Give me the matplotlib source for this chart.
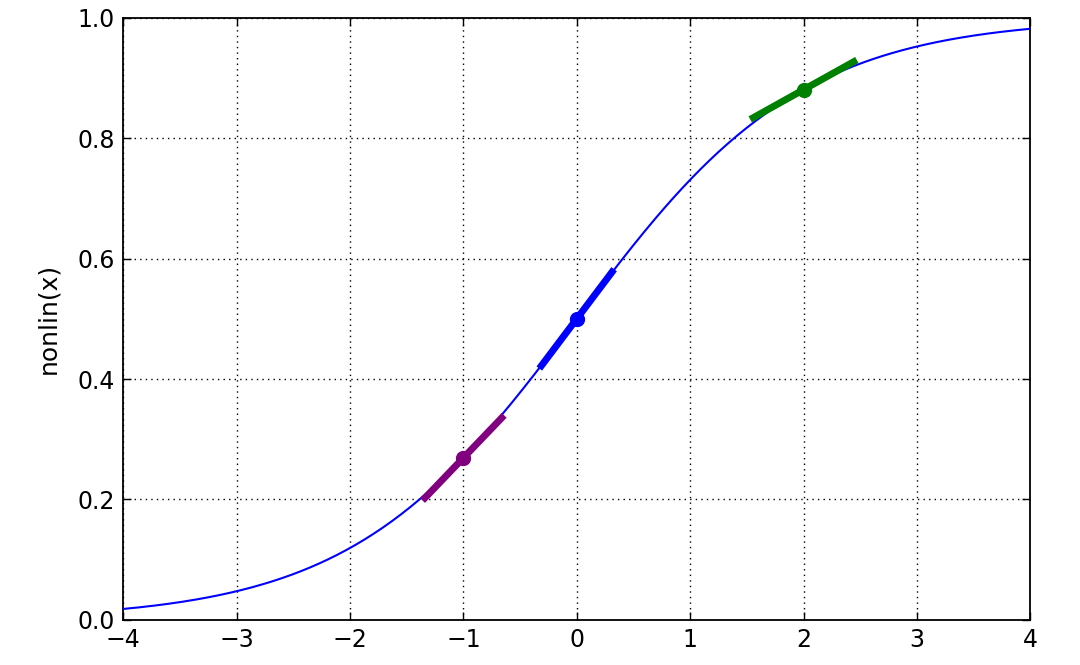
import numpy as np
import matplotlib
matplotlib.use("Agg")
import matplotlib.pyplot as plt

# data
x_range = (-4, 4)
points_x = [-1, 0, 2]
point_colors = ["purple", "blue", "green"]
half_widths = [0.36, 0.33, 0.47]
xticks = [-4, -3, -2, -1, 0, 1, 2, 3, 4]
yticks = [0.0, 0.2, 0.4, 0.6, 0.8, 1.0]


def nonlin(x, deriv=False):
    s = 1 / (1 + np.exp(-x))
    if deriv:
        return s * (1 - s)
    return s


fig = plt.figure(figsize=(10.8, 6.65), dpi=100)
ax = fig.add_axes([0.114, 0.068, 0.840, 0.905])

x = np.linspace(x_range[0], x_range[1], 400)
ax.plot(x, nonlin(x), color="blue", lw=1.5, zorder=3)

for px, c, hw in zip(points_x, point_colors, half_widths):
    y0 = nonlin(px)
    s = nonlin(px, deriv=True)
    xs = np.array([px - hw, px + hw])
    ax.plot(xs, y0 + s * (xs - px), color=c, lw=5, solid_capstyle="butt", zorder=4)
    ax.plot([px], [y0], "o", color=c, markersize=10, markeredgecolor=c, zorder=5)

ax.set_xlim(*x_range)
ax.set_ylim(0, 1)
ax.set_xticks(xticks)
ax.set_yticks(yticks)
ax.set_xticklabels([f"{t}".replace("-", "\u2212") for t in xticks])
ax.set_yticklabels([f"{t:.1f}" for t in yticks])
ax.grid(True, color="black", linestyle=(0, (1, 3)), linewidth=1)
ax.tick_params(direction="in", top=True, right=True, length=6, width=1, labelsize=17, pad=6)
for sp in ax.spines.values():
    sp.set_linewidth(1.3)
ax.set_ylabel("nonlin(x)", fontsize=18, labelpad=12)

fig.savefig("out.png", dpi=100, facecolor="white")
